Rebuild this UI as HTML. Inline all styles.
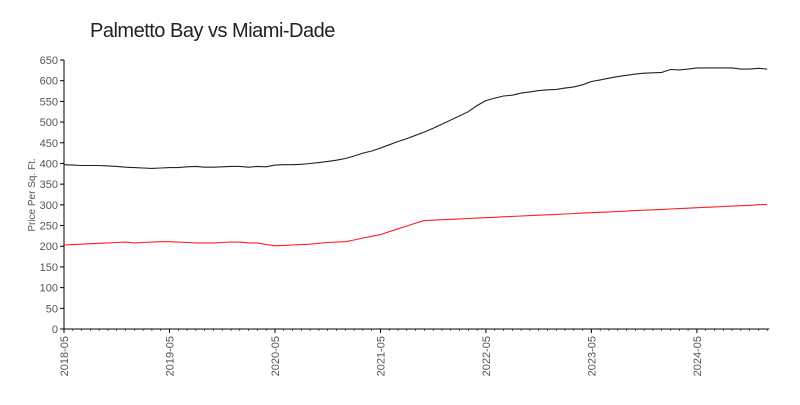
<!DOCTYPE html>
<html><head><meta charset="utf-8"><style>
body{margin:0;background:#fff;}
svg text{font-family:"Liberation Sans",sans-serif;}
</style></head><body>
<svg id="chart" width="800" height="400">
<text x="90" y="37" font-size="20" fill="#222" style="letter-spacing:-0.5px">Palmetto Bay vs Miami-Dade</text>
<text transform="translate(35,195) rotate(-90)" text-anchor="middle" font-size="10" fill="#555">Price Per Sq. Ft.</text>
<g id="axes"></g>
<g id="series"></g>
</svg>
<script>
const yTicks=[0,50,100,150,200,250,300,350,400,450,500,550,600,650];
const xLabels=['2018-05','2019-05','2020-05','2021-05','2022-05','2023-05','2024-05'];
const palmettoBay=[397,396,395,395,395,394,393,391,
390,389,388,389,390,390,392,393,391,391,392,393,
393,391,393,392,396,397,397,398,400,402,405,408,
412,418,425,430,437,445,453,460,468,476,485,495,
505,515,525,540,552,558,563,565,570,573,576,578,
579,582,585,590,598,602,606,610,613,616,618,619,
620,627,626,628,631,631,631,631,631,628,628,630,
628];
const miamiDade=[203,204,205,206,207,208,209,210,
208,209,210,211,211,210,209,208,208,208,209,210,
210,208,208,204,201,202,203,204,205,207,209,210,
211,215,220,224,228,235,242,249,256,262,263,264,
265,266,267,268,269,270,271,272,273,274,275,276,
277,278,279,280,281,282,283,284,285,286,287,288,
289,290,291,292,293,294,295,296,297,298,299,300,
301];
const NS='http://www.w3.org/2000/svg';
const x0=64,mw=8.79,y0=329,y650=60;
const xs=i=>x0+i*mw;
const ys=v=>y0-(v/650)*(y0-y650);
const axes=document.getElementById('axes');
function mk(tag,attrs,parent){const e=document.createElementNS(NS,tag);for(const k in attrs)e.setAttribute(k,attrs[k]);parent.appendChild(e);return e;}
const ya=mk('line',{x1:x0,x2:x0,y1:y650,y2:y0,stroke:'#000','stroke-width':1},axes);


const xa=mk('line',{x1:x0,x2:x0+80*mw+2,y1:y0,y2:y0,stroke:'#000','stroke-width':1},axes);


yTicks.forEach(v=>{
  const y=ys(v);
  mk('line',{x1:x0-4,x2:x0,y1:y,y2:y,stroke:'#000'},axes);
  const t=mk('text',{x:x0-6,y:y+4,'text-anchor':'end','font-size':11,fill:'#555'},axes);
  t.textContent=v;
  
  
});
for(let i=0;i<=80;i++){
  const x=xs(i);
  mk('line',{x1:x,x2:x,y1:y0,y2:y0+(i%12===0?4:2),stroke:'#000','stroke-width':i%12===0?1:0.6},axes);
}
xLabels.forEach((l,k)=>{
  const x=xs(k*12);
  const t=mk('text',{transform:`translate(${x+4},${y0+7}) rotate(-90)`,'text-anchor':'end','font-size':11,fill:'#555'},axes);
  t.textContent=l;
  
  
});
const series=document.getElementById('series');
function line(data,color,name){
  const d=data.map((v,i)=>(i?'L':'M')+xs(i).toFixed(1)+','+ys(v).toFixed(1)).join('');
  const p=mk('path',{d:d,fill:'none',stroke:color,'stroke-width':1.1},series);
  
  
}
line(palmettoBay,'#222','palmetto-bay-line');
line(miamiDade,'#ff2020','miami-dade-line');
</script>
</body></html>
